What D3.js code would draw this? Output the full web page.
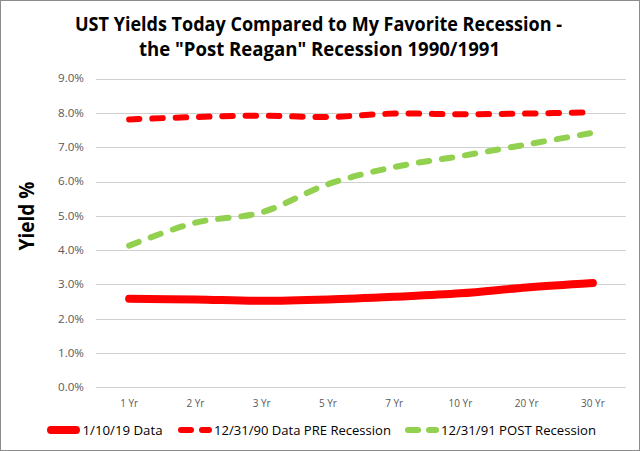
<!DOCTYPE html>
<html><head><meta charset="utf-8">
<script src="https://cdn.jsdelivr.net/npm/d3@7"></script>
<style>
html,body{margin:0;padding:0;background:#fff;}
svg{display:block;font-family:"Open Sans","Noto Sans",sans-serif;}
</style></head>
<body>
<svg id="chart" width="640" height="451"></svg>
<script>
const categories = ["1 Yr","2 Yr","3 Yr","5 Yr","7 Yr","10 Yr","20 Yr","30 Yr"];
const seriesNames = ["1/10/19 Data","12/31/90 Data PRE Recession","12/31/91 POST Recession"];
const today2019 = [2.58, 2.56, 2.52, 2.56, 2.64, 2.74, 2.91, 3.04];
const pre1990 = [7.81, 7.88, 7.92, 7.88, 7.98, 7.96, 7.98, 8.02];
const post1991 = [4.13, 4.80, 5.10, 5.92, 6.42, 6.74, 7.08, 7.42];
const yTicks = [0,1,2,3,4,5,6,7,8,9];
const titleLines = ["UST Yields Today Compared to My Favorite Recession -", "the \"Post Reagan\" Recession 1990/1991"];
const yTitle = "Yield %";

const svg = d3.select("#chart");
const W = 640, H = 451;
svg.append("rect").attr("x",0.5).attr("y",0.5).attr("width",W-1).attr("height",H-1)
  .attr("fill","#fff").attr("stroke","#8c8c8c").attr("stroke-width",1);

const x = d3.scaleBand().domain(categories).range([96, 626]).padding(0);
const y = d3.scaleLinear().domain([0, 9]).range([387.3, 78.6]);

// gridlines
svg.append("g").selectAll("line").data(yTicks).join("line")
  .attr("x1",96).attr("x2",626)
  .attr("y1",d=>Math.round(y(d))+0.5).attr("y2",d=>Math.round(y(d))+0.5)
  .attr("stroke","#d0d0d0").attr("stroke-width",1);

// y axis labels
const yAxis = d3.axisLeft(y).tickValues(yTicks).tickSize(0).tickPadding(0)
  .tickFormat(d=>d3.format(".1f")(d)+"%");
const gy = svg.append("g").attr("transform","translate(84,0)").call(yAxis);
gy.select(".domain").remove();
gy.selectAll("text").attr("fill","#595959").attr("font-size","10.5px")
  .attr("font-family","'Open Sans',sans-serif").attr("textLength",26).attr("lengthAdjust","spacingAndGlyphs");

// x axis labels
const xAxis = d3.axisBottom(x).tickSize(0).tickPadding(0);
const gx = svg.append("g").attr("transform","translate(0,399.5)").call(xAxis);
gx.select(".domain").remove();
gx.selectAll("text").attr("fill","#595959").attr("font-size","10px")
  .attr("font-family","'Open Sans',sans-serif");

// lines
const line = d3.line()
  .x((d,i)=>x(categories[i]) + x.bandwidth()/2)
  .y(d=>y(d))
  .curve(d3.curveCatmullRom.alpha(0.5));

const styles = [
  {data: today2019, color:"#ff0000", width:8, dash:null},
  {data: pre1990, color:"#ff0000", width:6, dash:"10.5,12.8"},
  {data: post1991, color:"#92d050", width:6, dash:"10.5,12.8"}
];

[styles[2], styles[1], styles[0]].forEach(s=>{
  svg.append("path").datum(s.data).attr("d",line)
    .attr("fill","none").attr("stroke",s.color).attr("stroke-width",s.width)
    .attr("stroke-linecap","round").attr("stroke-linejoin","round")
    .attr("stroke-dasharray",s.dash);
});

// title
const t = svg.append("g").attr("font-weight","bold").attr("font-size","19px")
  .attr("fill","#000").attr("text-anchor","middle");
t.append("text").attr("x",318.5).attr("y",31).text(titleLines[0])
  .attr("textLength",487).attr("lengthAdjust","spacingAndGlyphs");
t.append("text").attr("x",319.5).attr("y",56).text(titleLines[1])
  .attr("textLength",361).attr("lengthAdjust","spacingAndGlyphs");

// y title
svg.append("text").attr("transform","translate(33.5,216) rotate(-90)")
  .attr("text-anchor","middle").attr("font-weight","bold").attr("font-size","21.5px")
  .attr("fill","#000").attr("textLength",69).attr("lengthAdjust","spacingAndGlyphs").text(yTitle);

// legend
const legend = [
  {x0:47, x1:80, tx:82.5, tl:80, s:styles[0]},
  {x0:178, x1:212, tx:214, tl:177, s:styles[1]},
  {x0:405, x1:439, tx:441, tl:155, s:styles[2]}
];
const lg = svg.append("g");
legend.forEach((L,i)=>{
  const ly = 430;
  if (L.s.dash) {
    lg.append("line").attr("x1",L.x0+3).attr("x2",L.x0+13).attr("y1",ly).attr("y2",ly)
      .attr("stroke",L.s.color).attr("stroke-width",L.s.width).attr("stroke-linecap","round");
    lg.append("line").attr("x1",L.x1-10).attr("x2",L.x1-3).attr("y1",ly).attr("y2",ly)
      .attr("stroke",L.s.color).attr("stroke-width",L.s.width).attr("stroke-linecap","round");
  } else {
    lg.append("line").attr("x1",L.x0+4).attr("x2",L.x1-4).attr("y1",ly).attr("y2",ly)
      .attr("stroke",L.s.color).attr("stroke-width",L.s.width).attr("stroke-linecap","round");
  }
  lg.append("text").attr("x",L.tx).attr("y",434.5).attr("font-size","13px").attr("fill","#000")
    .attr("textLength",L.tl).attr("lengthAdjust","spacingAndGlyphs").text(seriesNames[i]);
});
</script>
</body></html>
